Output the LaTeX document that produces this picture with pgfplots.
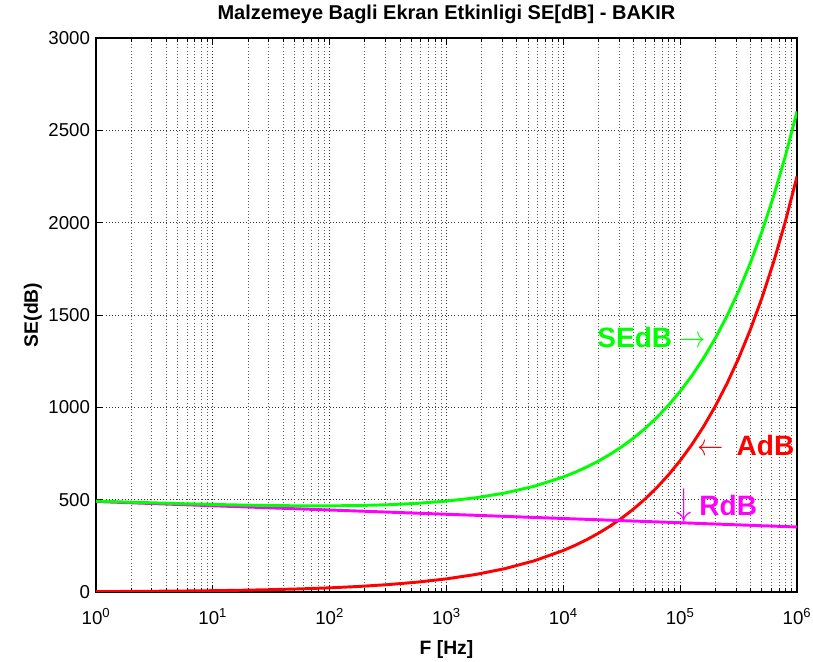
\documentclass[border=0pt]{standalone}
\usepackage{pgfplots}
\pgfplotsset{compat=1.18}
\usepackage{fontspec}
\setmainfont{Liberation Sans}
\definecolor{pgreen}{RGB}{0,255,0}
\definecolor{pred}{RGB}{255,0,0}
\definecolor{pmag}{RGB}{255,0,255}
\newcommand{\rarr}{\scalebox{0.95}[1.1]{$\rightarrow$}}
\newcommand{\larr}{\scalebox{0.95}[1.1]{$\leftarrow$}}
\newcommand{\darr}{\scalebox{1.1}[1.4]{$\downarrow$}}
\begin{document}
\begin{tikzpicture}
\begin{axis}[
  scale only axis,
  width=525.75pt, height=415.5pt,
  xmode=log,
  xmin=1, xmax=1e6,
  ymin=0, ymax=3000,
  xtick={1,10,100,1000,10000,100000,1000000},
  xticklabels={10\textsuperscript{0},10\textsuperscript{1},10\textsuperscript{2},10\textsuperscript{3},10\textsuperscript{4},10\textsuperscript{5},10\textsuperscript{6}},
  ytick={0,500,1000,1500,2000,2500,3000},
  /pgf/number format/assume math mode=true,
  /pgf/number format/1000 sep={},
  tick label style={font=\fontsize{14}{16}\selectfont},
  xticklabel style={yshift=-9pt},
  yticklabel style={xshift=-1pt},
  tick align=inside,
  major tick length=5pt,
  minor tick length=3pt,
  tick style={black, line width=0.6pt},
  grid=both,
  major grid style={dotted, black!80, line width=0.6pt},
  minor grid style={dotted, black!65, line width=0.6pt},
  minor x tick num=8,
  axis line style={black, line width=0.8pt},
  title={\bfseries Malzemeye Bagli Ekran Etkinligi SE[dB] - BAKIR},
  title style={font=\fontsize{15}{17}\selectfont, yshift=1pt},
  xlabel={\bfseries F [Hz]},
  ylabel={\bfseries SE(dB)},
  label style={font=\fontsize{14.5}{16}\selectfont},
  xlabel style={yshift=-5pt},
  ylabel style={yshift=-2pt},
  clip mode=individual,
]
% AdB
\addplot[pred, line width=2.2pt] coordinates {
(1,2.25) (1.778,3.00) (3.162,4.00) (5.623,5.34) (10,7.12) (17.78,9.49) (31.62,12.65) (56.23,16.87)
(100,22.5) (177.8,30.0) (316.2,40.0) (562.3,53.35) (1000,71.15) (1778,94.87) (3162,126.5) (5623,168.7)
(10000,225) (12589,252.4) (15849,283.3) (19953,317.8) (25119,356.6) (31623,400.1) (39811,448.9)
(50119,503.7) (63096,565.2) (79433,634.1) (100000,711.5) (125893,798.3) (158489,895.7) (199526,1005.1)
(251189,1127.7) (316228,1265.2) (398107,1419.7) (501187,1592.8) (630957,1787.2) (794328,2005.4) (1000000,2250)
};
% RdB
\addplot[pmag, line width=2.2pt] coordinates {
(1,490) (1.778,484.25) (3.162,478.5) (5.623,472.75) (10,467) (17.78,461.25) (31.62,455.5) (56.23,449.75)
(100,444) (177.8,438.25) (316.2,432.5) (562.3,426.75) (1000,421) (1778,415.25) (3162,409.5) (5623,403.75)
(10000,398) (15849,393.4) (25119,388.8) (39811,384.2) (63096,379.6) (100000,375) (158489,370.4)
(251189,365.8) (398107,361.2) (630957,356.6) (1000000,352)
};
% SEdB
\addplot[pgreen, line width=2.2pt] coordinates {
(1,492.25) (1.778,487.25) (3.162,482.5) (5.623,478.09) (10,474.12) (17.78,470.74) (31.62,468.15) (56.23,466.62)
(100,466.5) (177.8,468.25) (316.2,472.5) (562.3,480.1) (1000,492.15) (1778,510.12) (3162,536.0) (5623,572.5)
(10000,623) (12589,648.1) (15849,676.7) (19953,708.9) (25119,745.4) (31623,786.6) (39811,833.1)
(50119,885.6) (63096,944.8) (79433,1011.4) (100000,1086.5) (125893,1171.0) (158489,1266.1) (199526,1373.2)
(251189,1493.5) (316228,1628.7) (398107,1780.9) (501187,1951.7) (630957,2143.8) (794328,2359.7) (1000000,2602)
};
\node[anchor=west, text=pgreen, font=\fontsize{21}{23}\selectfont\bfseries, inner sep=0pt] at (axis cs:19500,1380) {SEdB\ \rarr};
\node[anchor=west, text=pred, font=\fontsize{21}{23}\selectfont\bfseries, inner sep=0pt] at (axis cs:141254,796) {\larr\ \,AdB};
\node[anchor=west, text=pmag, font=\fontsize{21}{23}\selectfont\bfseries, inner sep=0pt] at (axis cs:92470,465) {\darr\ RdB};
\end{axis}
\pgfresetboundingbox
\path[use as bounding box] ([shift={(-72pt,-52.5pt)}]current axis.south west) rectangle ([shift={(12pt,28.5pt)}]current axis.north east);
\end{tikzpicture}
\end{document}
